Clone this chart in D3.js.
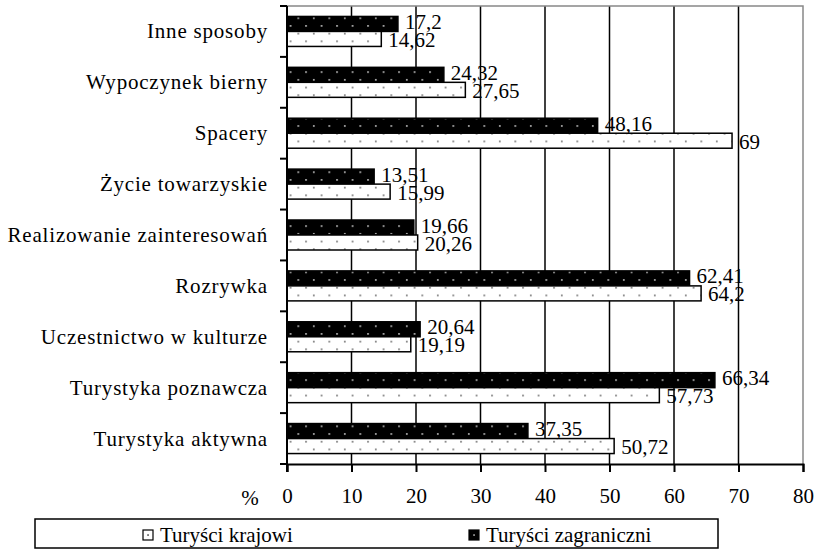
<!DOCTYPE html>
<html>
<head>
<meta charset="utf-8">
<script src="https://cdn.jsdelivr.net/npm/d3@7"></script>
<style>
  body { margin: 0; background: #fff; }
</style>
</head>
<body>
<div id="chart"></div>
<script>
// chart data
var categories = ["Inne sposoby", "Wypoczynek bierny", "Spacery", "Życie towarzyskie",
    "Realizowanie zainteresowań", "Rozrywka", "Uczestnictwo w kulturze",
    "Turystyka poznawcza", "Turystyka aktywna"];
var zagraniczni = [17.2, 24.32, 48.16, 13.51, 19.66, 62.41, 20.64, 66.34, 37.35];
var krajowi = [14.62, 27.65, 69, 15.99, 20.26, 64.2, 19.19, 57.73, 50.72];
var xTicks = [0, 10, 20, 30, 40, 50, 60, 70, 80];
var seriesNames = ["Turyści krajowi", "Turyści zagraniczni"];

var W = 817, H = 549;
var plotLeft = 287, plotRight = 803, plotTop = 6, plotBottom = 464;
var serif = "Liberation Serif";

var svg = d3.select("#chart").append("svg")
    .attr("width", W).attr("height", H);

// dotted patterns for the bars
var defs = svg.append("defs");
function dotPattern(id, bg, dot) {
    var p = defs.append("pattern").attr("id", id)
        .attr("patternUnits", "userSpaceOnUse")
        .attr("width", 15.5).attr("height", 15.4);
    p.append("rect").attr("width", 15.5).attr("height", 15.4).attr("fill", bg);
    p.append("rect").attr("x", 3).attr("y", 2).attr("width", 1.6).attr("height", 1.6).attr("fill", dot);
    p.append("rect").attr("x", 10.75).attr("y", 9.7).attr("width", 1.6).attr("height", 1.6).attr("fill", dot);
}
dotPattern("dotDark", "#000", "#ccc");
dotPattern("dotLight", "#fff", "#666");

var x = d3.scaleLinear().domain([0, 80]).range([plotLeft, plotRight]);
var y = d3.scaleBand().domain(categories).range([plotTop, plotBottom]);
var barH = 15;

// gridlines
svg.append("g").selectAll("line")
    .data(xTicks.filter(function (d) { return d > 0 && d < 80; }))
    .enter().append("line")
    .attr("x1", function (d) { return x(d); })
    .attr("x2", function (d) { return x(d); })
    .attr("y1", plotTop).attr("y2", plotBottom)
    .attr("stroke", "#000").attr("stroke-width", 1.5);

// plot border (top, right)
svg.append("path")
    .attr("d", "M" + plotLeft + "," + plotTop + "H" + plotRight + "V" + plotBottom)
    .attr("fill", "none").attr("stroke", "#888").attr("stroke-width", 1.5);

// bars
var rows = categories.map(function (c, i) {
    return { cat: c, zag: zagraniczni[i], kra: krajowi[i] };
});

var g = svg.append("g");
rows.forEach(function (d) {
    var cy = y(d.cat) + y.bandwidth() / 2;
    g.append("rect")
        .attr("x", x(0)).attr("y", cy - barH)
        .attr("width", x(d.zag) - x(0)).attr("height", barH)
        .attr("fill", "url(#dotDark)").attr("stroke", "#000").attr("stroke-width", 1.5);
    g.append("rect")
        .attr("x", x(0)).attr("y", cy)
        .attr("width", x(d.kra) - x(0)).attr("height", barH)
        .attr("fill", "url(#dotLight)").attr("stroke", "#000").attr("stroke-width", 1.5);
    g.append("text")
        .attr("x", x(d.zag) + 7).attr("y", cy - barH / 2 - 2)
        .attr("dominant-baseline", "central")
        .style("font-family", serif).style("font-size", "21px")
        .text(String(d.zag).replace(".", ","));
    g.append("text")
        .attr("x", x(d.kra) + 7).attr("y", cy + barH / 2 + 1)
        .attr("dominant-baseline", "central")
        .style("font-family", serif).style("font-size", "21px")
        .text(String(d.kra).replace(".", ","));
});

// category labels
svg.append("g").selectAll("text")
    .data(categories).enter().append("text")
    .attr("x", 268)
    .attr("y", function (d) { return y(d) + y.bandwidth() / 2; })
    .attr("text-anchor", "end")
    .attr("dominant-baseline", "central")
    .style("font-family", serif).style("font-size", "21px")
    .style("letter-spacing", "0.8px")
    .text(function (d) { return d; });

// y axis with ticks at band edges
var yEdges = categories.map(function (c) { return y(c); }).concat([plotBottom]);
svg.append("line")
    .attr("x1", plotLeft).attr("x2", plotLeft).attr("y1", plotTop).attr("y2", plotBottom + 8)
    .attr("stroke", "#000").attr("stroke-width", 2);
svg.append("g").selectAll("line")
    .data(yEdges).enter().append("line")
    .attr("x1", plotLeft - 7).attr("x2", plotLeft)
    .attr("y1", function (d) { return d; }).attr("y2", function (d) { return d; })
    .attr("stroke", "#000").attr("stroke-width", 2);

// x axis
var xAxis = svg.append("g")
    .attr("transform", "translate(0," + plotBottom + ")")
    .call(d3.axisBottom(x).tickValues(xTicks).tickSize(8).tickPadding(16)
        .tickFormat(function (d) { return d; }));
xAxis.attr("font-family", serif).attr("font-size", 21);
xAxis.select(".domain").attr("stroke", "#000").attr("stroke-width", 2);
xAxis.selectAll(".tick line").attr("stroke", "#000").attr("stroke-width", 2);
xAxis.selectAll(".tick text")
    .style("font-family", serif)
    .style("font-size", "21px").attr("fill", "#000");

svg.append("text")
    .attr("x", 250).attr("y", 498)
    .attr("text-anchor", "middle").attr("dominant-baseline", "central")
    .style("font-family", serif).style("font-size", "21px").text("%");

// legend
svg.append("rect")
    .attr("x", 35).attr("y", 519).attr("width", 683).attr("height", 29)
    .attr("fill", "#fff").attr("stroke", "#000").attr("stroke-width", 1.5);

var legend = [
    { name: seriesNames[0], fill: "#fff", dot: "#333", x: 143 },
    { name: seriesNames[1], fill: "#000", dot: "#ccc", x: 469 }
];
legend.forEach(function (l) {
    svg.append("rect")
        .attr("x", l.x).attr("y", 530).attr("width", 10).attr("height", 10)
        .attr("fill", l.fill).attr("stroke", "#000").attr("stroke-width", 1.2);
    svg.append("rect")
        .attr("x", l.x + 4.3).attr("y", 534.3).attr("width", 1.5).attr("height", 1.5)
        .attr("fill", l.dot);
    svg.append("text")
        .attr("x", l.x + 17).attr("y", 535)
        .attr("dominant-baseline", "central")
        .style("font-family", serif).style("font-size", "21px")
        .text(l.name);
});
</script>
</body>
</html>
